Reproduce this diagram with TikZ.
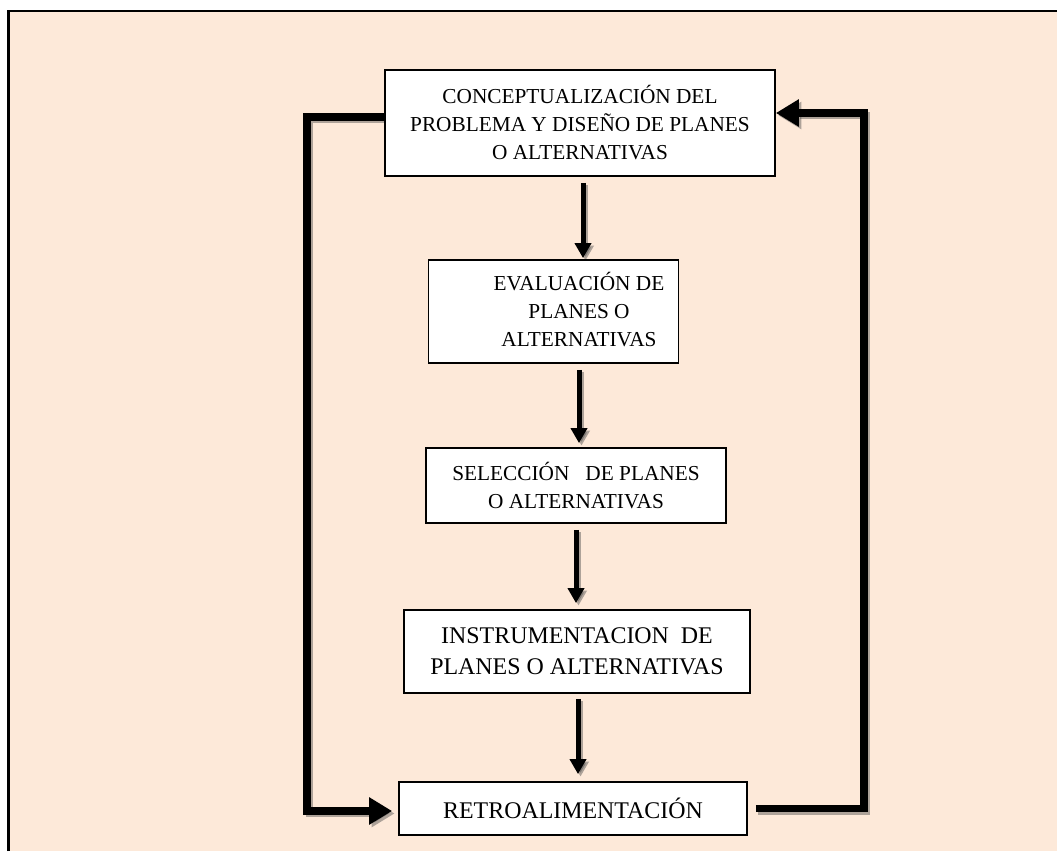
\documentclass[tikz,border=0pt]{standalone}
\usepackage{fontspec}
\setmainfont{Liberation Serif}
\usetikzlibrary{arrows.meta}
\definecolor{peach}{HTML}{FDE9D9}
\pgfdeclarelayer{back}
\pgfdeclarelayer{shadow}
\pgfsetlayers{back,shadow,main}

\tikzset{
  box/.style={draw=black, line width=1.8pt, fill=white, inner sep=0pt, align=center},
  txtA/.style={font=\fontsize{21.3}{28}\selectfont, align=center, inner sep=0pt},
  txtB/.style={font=\fontsize{23.9}{31}\selectfont, align=center, inner sep=0pt},
  flowdown/.style={line width=5pt, -{Triangle[width=16pt,length=15pt]}},
  feedback/.style={line width=7.5pt, line join=miter, -{Triangle[width=26pt,length=23pt]}},
}

% all connectors, drawn once as a soft shadow and once in black
\newcommand\flowlinks[1]{%
  \draw[flowdown,#1,shorten <=6pt,shorten >=1pt] ([xshift=3pt]b1.south) -- ([xshift=3pt]b1.south |- b2.north);
  \draw[flowdown,#1,shorten <=6pt,shorten >=4pt] ([xshift=3pt]b3.north |- b2.south) -- ([xshift=3pt]b3.north);
  \draw[flowdown,#1,shorten <=6pt,shorten >=6pt] (b3.south) -- (b3.south |- b4.north);
  \draw[flowdown,#1,shorten <=5pt,shorten >=7pt] ([xshift=1pt]b4.south) -- ([xshift=1pt]b4.south |- b5.north);
  \draw[feedback,#1,shorten >=6pt] ([yshift=6pt]b1.west) -- ++(-77,0) |- ([yshift=-2.5pt]b5.west);
  \draw[feedback,#1,shorten <=8pt] (b5.east) -- ++(116,0) |- ([yshift=10pt]b1.east);
}

\begin{document}
\begin{tikzpicture}[x=1pt,y=-1pt]
\useasboundingbox (0,0) rectangle (1057,851);

% page panel with its left and top frame lines
\begin{pgfonlayer}{back}
  \fill[peach] (8.5,11) rectangle (1057,851);
  \draw[line width=2.5pt] (8.5,851) -- (8.5,11) -- (1057,11);
\end{pgfonlayer}

% process steps
\node[box, txtA, minimum width=390pt, minimum height=106pt] (b1) at (580,123)
  {CONCEPTUALIZACIÓN DEL\\PROBLEMA Y DISEÑO DE PLANES\\O ALTERNATIVAS};
\node[box, minimum width=250pt, minimum height=103pt] (b2) at (553.5,311.5) {};
\node[txtA] (t2) at (579,310) {EVALUACIÓN DE\\PLANES O\\ALTERNATIVAS};
\node[box, txtA, minimum width=300pt, minimum height=75pt] (b3) at (576,485.5)
  {SELECCIÓN\ \ \ DE PLANES\\O ALTERNATIVAS};
\node[box, txtB, minimum width=346pt, minimum height=83pt] (b4) at (577,651.5)
  {INSTRUMENTACION\ \ DE\\PLANES O ALTERNATIVAS};
\node[box, txtB, minimum width=348pt, minimum height=53pt] (b5) at (573,808.5)
  {RETROALIMENTACIÓN};

% connectors
\begin{pgfonlayer}{shadow}
  \begin{scope}[transform canvas={xshift=2.5pt,yshift=-2.5pt}, opacity=0.45]
    \flowlinks{black!70}
  \end{scope}
\end{pgfonlayer}
\flowlinks{black}
\end{tikzpicture}
\end{document}
